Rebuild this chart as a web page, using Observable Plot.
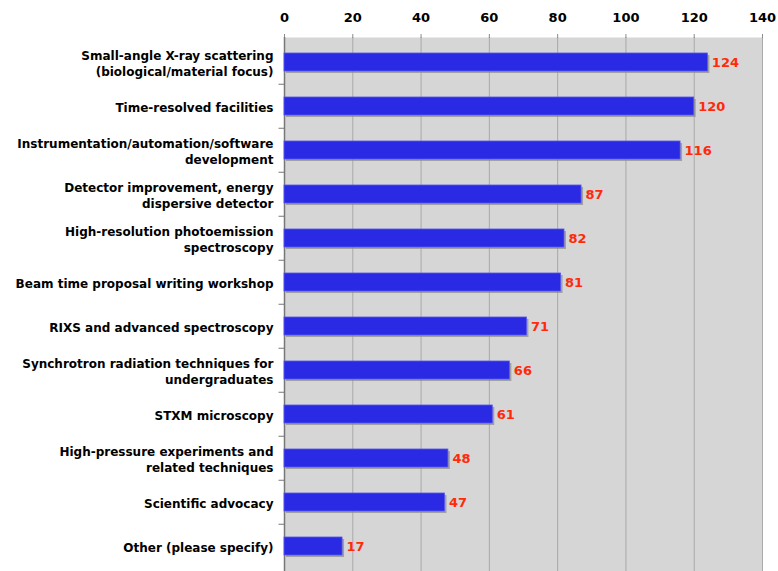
<!DOCTYPE html>
<html><head><meta charset="utf-8">
<script src="https://cdn.jsdelivr.net/npm/d3@7"></script>
<script src="https://cdn.jsdelivr.net/npm/@observablehq/plot@0.6"></script>
<style>body{margin:0;background:#fff}</style>
</head><body><div id="chart"></div>
<script>
const categories = [
  "Small-angle X-ray scattering\n(biological/material focus)",
  "Time-resolved facilities",
  "Instrumentation/automation/software\ndevelopment",
  "Detector improvement, energy\ndispersive detector",
  "High-resolution photoemission\nspectroscopy",
  "Beam time proposal writing workshop",
  "RIXS and advanced spectroscopy",
  "Synchrotron radiation techniques for\nundergraduates",
  "STXM microscopy",
  "High-pressure experiments and\nrelated techniques",
  "Scientific advocacy",
  "Other (please specify)"
];
const values = [124, 120, 116, 87, 82, 81, 71, 66, 61, 48, 47, 17];
const xTicks = [0, 20, 40, 60, 80, 100, 120, 140];

const data = categories.map((c, i) => ({cat: c, value: values[i]}));
const font = "'DejaVu Sans', Verdana, sans-serif";

const chart = Plot.plot({
  width: 778, height: 571,
  marginTop: 37, marginBottom: 0, marginLeft: 284, marginRight: 16,
  style: {fontFamily: font, background: "#fff"},
  x: {domain: [0, 140], axis: null, label: null},
  y: {domain: categories, paddingInner: 0.6, paddingOuter: 0.3, axis: null, label: null},
  marks: [
    Plot.frame({fill: "#d6d6d6", stroke: null}),
    Plot.ruleX(xTicks, {stroke: "#a9a9a9", strokeWidth: 1}),
    Plot.ruleY([0], {frameAnchor: "top", stroke: "#8c8c8c"}),
    Plot.axisX(xTicks, {anchor: "top", label: null, tickSize: 4, stroke: "#8c8c8c", tickPadding: 12, fontSize: 13, fontWeight: "bold", fill: "#000"}),
    Plot.ruleX([0], {stroke: "#777", strokeWidth: 1.5}),
    Plot.ruleY(categories.slice(1), {y: d => d, x1: -1.6, x2: 0, dy: -22.25, stroke: "#777"}),
    Plot.barX(data, {x: "value", y: "cat", fill: "#8a8a8a", fillOpacity: 0.7, dx: 2, dy: 2}),
    Plot.barX(data, {x: "value", y: "cat", fill: "#2a2ae4", stroke: "#5656ee", strokeWidth: 0.8}),
    Plot.text(data, {x: "value", y: "cat", text: d => String(d.value), textAnchor: "start", dx: 4, fill: "#ff2a0a", fontWeight: "bold", fontSize: 13}),
    Plot.axisY({anchor: "left", label: null, tickSize: 0, tickPadding: 11, fontSize: 12, fontWeight: "bold", fill: "#000", lineHeight: 1.33})
  ]
});
document.getElementById("chart").append(chart);
</script>
</body></html>
